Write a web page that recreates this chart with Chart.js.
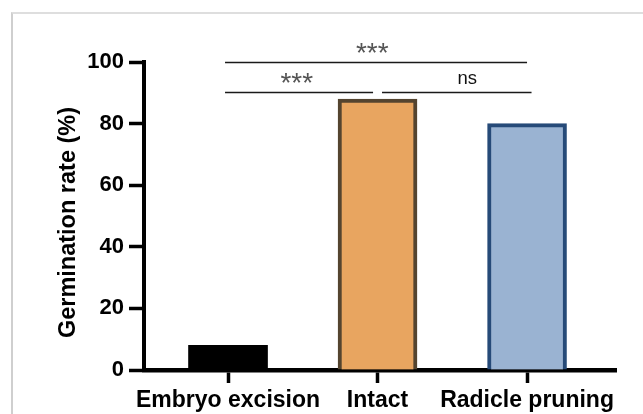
<!DOCTYPE html>
<html>
<head>
<meta charset="utf-8">
<script src="https://cdn.jsdelivr.net/npm/chart.js@4/dist/chart.umd.min.js"></script>
<style>
  html, body { margin: 0; padding: 0; background: #fff; }
  #wrap { position: relative; width: 643px; height: 414px; }
  #frame { position: absolute; left: 11px; top: 12px; right: 0; bottom: 0;
           border-top: 2px solid #dedede; border-left: 2px solid #cfcfcf; pointer-events: none; }
  canvas { position: absolute; left: 0; top: 0; }
</style>
</head>
<body>
<div id="wrap">
  <div id="frame"></div>
  <canvas id="c" width="643" height="414"></canvas>
</div>
<script>
// ---- data ----
const categories = ['Embryo excision', 'Intact', 'Radicle pruning'];
const germinationRate = [8, 88, 80];
const yTicks = [0, 20, 40, 60, 80, 100];
// significance brackets: [fromCategoryIndex, toCategoryIndex, label]
const comparisons = [
  [0, 2, '***'],
  [0, 1, '***'],
  [1, 2, 'ns']
];

const fills = ['#000000', '#E8A560', '#9AB3D2'];
const borders = ['#000000', '#54442F', '#264A78'];

const FONT = "'Liberation Sans', Arial, sans-serif";

const sigPlugin = {
  id: 'sig',
  afterDraw(chart) {
    const x = chart.scales.x, y = chart.scales.y, ctx = chart.ctx;
    ctx.save();
    ctx.strokeStyle = '#1a1a1a';
    ctx.lineWidth = 1.6;
    const line = (x0, x1, v) => {
      const py = Math.round(y.getPixelForValue(v)) + 0.5;
      ctx.beginPath();
      ctx.moveTo(x.getPixelForValue(x0), py);
      ctx.lineTo(x.getPixelForValue(x1), py);
      ctx.stroke();
    };
    const text = (t, xv, v, size, color) => {
      ctx.font = size + 'px ' + FONT;
      ctx.fillStyle = color;
      ctx.textAlign = 'center';
      ctx.textBaseline = 'alphabetic';
      ctx.fillText(t, x.getPixelForValue(xv), y.getPixelForValue(v));
    };
    const c0 = comparisons[0];
    line(c0[0] - 0.02, c0[1], 100);
    text(c0[2], 0.965, 100.0, 28, '#555');
    const c1 = comparisons[1];
    line(c1[0] - 0.02, c1[1] - 0.03, 90.4);
    text(c1[2], 0.46, 90.4, 28, '#555');
    const c2 = comparisons[2];
    line(c2[0] + 0.03, c2[1] + 0.03, 90.4);
    text(c2[2], 1.6, 93.0, 18.5, '#111');
    ctx.restore();
  }
};

new Chart(document.getElementById('c'), {
  type: 'bar',
  data: {
    datasets: [{
      data: categories.map((c, i) => ({ x: i, y: germinationRate[i] })),
      backgroundColor: fills,
      borderColor: borders,
      borderWidth: [0, 4, 4],
      borderSkipped: 'bottom',
      barThickness: 79
    }]
  },
  options: {
    responsive: false,
    animation: false,
    devicePixelRatio: 1,
    layout: { padding: { top: 62, right: 27, left: 0, bottom: 0 } },
    plugins: { legend: { display: false }, tooltip: { enabled: false } },
    scales: {
      x: {
        type: 'linear',
        offset: false,
        min: -0.562,
        max: 2.595,
        afterBuildTicks(s) { s.ticks = categories.map((c, i) => ({ value: i })); },
        afterFit(s) { s.height = 44; },
        ticks: {
          callback: (v) => categories[v],
          color: '#000',
          font: { family: FONT, size: 23, weight: 'bold' },
          padding: 4,
          maxRotation: 0,
          autoSkip: false
        },
        grid: { offset: false, drawOnChartArea: false, tickLength: 13, tickWidth: 3.5, tickColor: '#000' },
        border: { display: true, color: '#000', width: 4.5 }
      },
      y: {
        min: 0,
        max: 100,
        afterBuildTicks(s) { s.ticks = yTicks.map(v => ({ value: v })); },
        afterFit(s) { s.width = 144; },
        ticks: {
          color: '#000',
          font: { family: FONT, size: 22, weight: 'bold' },
          padding: 5
        },
        grid: { drawOnChartArea: false, tickLength: 15, tickWidth: 3.5, tickColor: '#000' },
        border: { display: true, color: '#000', width: 4 },
        title: {
          display: true,
          text: 'Germination rate (%)  ',
          color: '#000',
          font: { family: FONT, size: 23.5, weight: 'bold' },
          padding: { top: 54, bottom: 0 }
        }
      }
    }
  },
  plugins: [sigPlugin]
});
</script>
</body>
</html>
